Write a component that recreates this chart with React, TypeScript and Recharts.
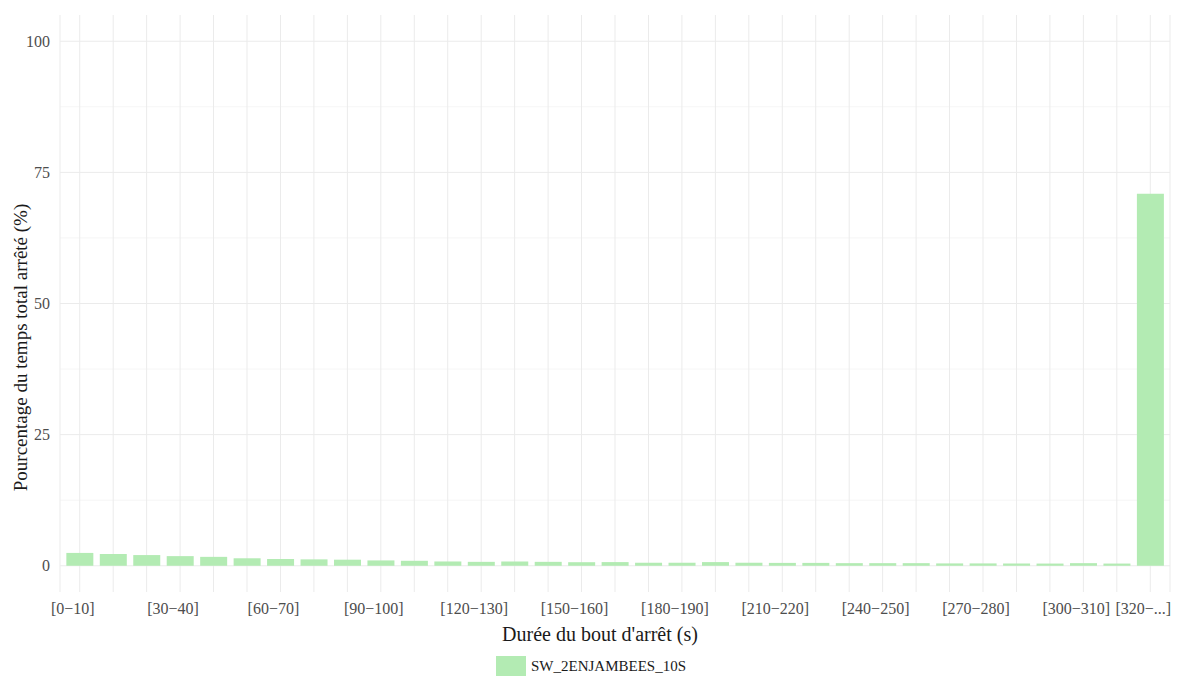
import { BarChart, Bar, XAxis, YAxis, CartesianGrid } from 'recharts'

const CATEGORIES = [
  '[0−10]', '[10−20]', '[20−30]', '[30−40]', '[40−50]', '[50−60]', '[60−70]', '[70−80]',
  '[80−90]', '[90−100]', '[100−110]', '[110−120]', '[120−130]', '[130−140]', '[140−150]',
  '[150−160]', '[160−170]', '[170−180]', '[180−190]', '[190−200]', '[200−210]', '[210−220]',
  '[220−230]', '[230−240]', '[240−250]', '[250−260]', '[260−270]', '[270−280]', '[280−290]',
  '[290−300]', '[300−310]', '[310−320]', '[320−...]',
]
const SHOWN_LABELS = [
  '[0−10]', '[30−40]', '[60−70]', '[90−100]', '[120−130]', '[150−160]', '[180−190]',
  '[210−220]', '[240−250]', '[270−280]', '[300−310]', '[320−...]',
]
const SW_2ENJAMBEES_10S = [
  2.45, 2.24, 2.04, 1.84, 1.7, 1.43, 1.29, 1.22, 1.16, 1.02, 0.95, 0.82, 0.75, 0.82, 0.75,
  0.68, 0.7, 0.58, 0.58, 0.7, 0.58, 0.55, 0.55, 0.5, 0.5, 0.5, 0.45, 0.45, 0.42, 0.42, 0.5, 0.42,
  70.9,
]
const Y_MAJOR = [0, 25, 50, 75, 100]
const Y_MINOR = [12.5, 37.5, 62.5, 87.5]

const data = CATEGORIES.map((c, i) => ({ cat: c, value: SW_2ENJAMBEES_10S[i] }))

const FONT = '"Liberation Serif", "Times New Roman", serif'
const BAR_FILL = '#b3ebb3'

export default function App() {
  return (
    <div style={{ position: 'absolute', left: 0, top: 0, width: 1180, height: 679, background: '#fff', fontFamily: FONT }}>
      <BarChart width={1180} height={679} data={data} margin={{ top: 15, right: 10, bottom: 0, left: 0 }} barCategoryGap="10%">
        <CartesianGrid horizontal={true} vertical={false} horizontalValues={Y_MINOR} stroke="#f2f2f2" strokeWidth={0.8} />
        <CartesianGrid horizontal={true} vertical={true} horizontalValues={Y_MAJOR} stroke="#ebebeb" strokeWidth={1} />
        <XAxis
          dataKey="cat"
          interval={0}
          padding={{ left: 3, right: 3 }}
          axisLine={false}
          tickLine={false}
          height={87}
          tickMargin={5}
          tick={{ fill: '#4d4d4d', fontSize: 16, fontFamily: FONT, dx: -7 }}
          tickFormatter={(v: string) => (SHOWN_LABELS.includes(v) ? v : '')}
          label={{
            content: ({ viewBox }: any) => (
              <text x={viewBox.x + viewBox.width / 2 - 15} y={viewBox.y + 49} textAnchor="middle" fontSize={20} fill="#1a1a1a" fontFamily={FONT}>
                Durée du bout d'arrêt (s)
              </text>
            ),
          }}
        />
        <YAxis
          type="number"
          domain={[-5, 105]}
          ticks={[...Y_MAJOR]}
          width={60}
          axisLine={false}
          tickLine={false}
          tickMargin={4}
          tick={{ fill: '#4d4d4d', fontSize: 16, fontFamily: FONT }}
          label={{
            content: ({ viewBox }: any) => {
              const cx = 20
              const cy = viewBox.y + viewBox.height / 2 + 44
              return (
                <text x={cx} y={cy} transform={`rotate(-90, ${cx}, ${cy})`} textAnchor="middle" dominantBaseline="central" fontSize={19} fill="#1a1a1a" fontFamily={FONT}>
                  Pourcentage du temps total arrêté (%)
                </text>
              )
            },
          }}
        />
        <Bar dataKey="value" name="SW_2ENJAMBEES_10S" fill={BAR_FILL} isAnimationActive={false} />
      </BarChart>
      <div style={{ position: 'absolute', left: 496, top: 656, display: 'flex', alignItems: 'center', gap: 5 }}>
        <div style={{ width: 30, height: 20, background: BAR_FILL }} />
        <span style={{ fontSize: 15, color: '#1a1a1a' }}>SW_2ENJAMBEES_10S</span>
      </div>
    </div>
  )
}
